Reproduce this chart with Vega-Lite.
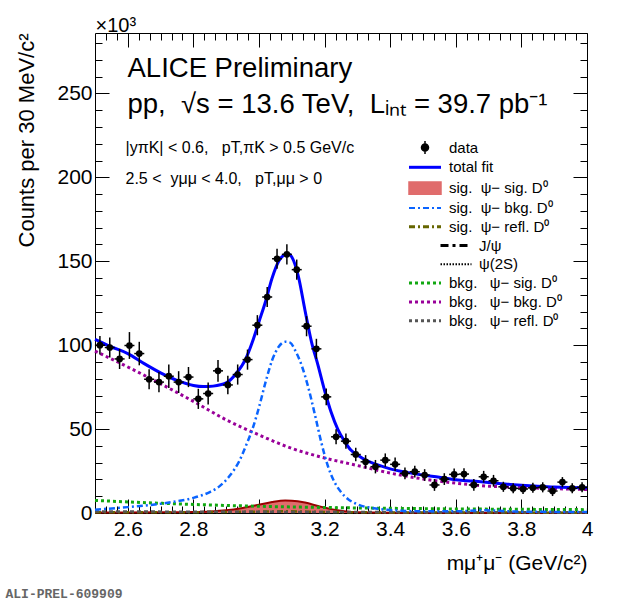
{
  "$schema": "https://vega.github.io/schema/vega-lite/v6.json",
  "description": "ALICE Preliminary: dimuon invariant mass with J/psi - D0 fit components",
  "width": 492,
  "height": 480,
  "autosize": {"type": "none"},
  "padding": {"left": 95, "top": 33, "right": 33, "bottom": 90},
  "background": "white",
  "datasets": {
    "points": [
      {"m": 2.515, "counts": 100.0, "err": 5.5},
      {"m": 2.545, "counts": 98.6, "err": 6},
      {"m": 2.575, "counts": 91.8, "err": 6},
      {"m": 2.605, "counts": 99.8, "err": 8},
      {"m": 2.635, "counts": 95.0, "err": 7},
      {"m": 2.665, "counts": 79.7, "err": 6},
      {"m": 2.695, "counts": 78.0, "err": 6},
      {"m": 2.725, "counts": 81.5, "err": 7},
      {"m": 2.755, "counts": 78.0, "err": 6.5},
      {"m": 2.785, "counts": 81.0, "err": 6},
      {"m": 2.815, "counts": 68.0, "err": 6},
      {"m": 2.845, "counts": 71.2, "err": 6.5},
      {"m": 2.875, "counts": 84.7, "err": 6.5},
      {"m": 2.905, "counts": 76.3, "err": 5.5},
      {"m": 2.935, "counts": 82.5, "err": 6},
      {"m": 2.965, "counts": 91.4, "err": 6},
      {"m": 2.995, "counts": 111.9, "err": 6},
      {"m": 3.025, "counts": 128.7, "err": 6},
      {"m": 3.055, "counts": 151.5, "err": 6},
      {"m": 3.085, "counts": 154.1, "err": 6},
      {"m": 3.115, "counts": 145.0, "err": 6},
      {"m": 3.145, "counts": 111.3, "err": 6},
      {"m": 3.175, "counts": 97.8, "err": 6},
      {"m": 3.205, "counts": 69.2, "err": 5},
      {"m": 3.235, "counts": 45.4, "err": 4.5},
      {"m": 3.265, "counts": 42.8, "err": 4.5},
      {"m": 3.295, "counts": 34.9, "err": 4},
      {"m": 3.325, "counts": 30.5, "err": 4},
      {"m": 3.355, "counts": 27.6, "err": 4},
      {"m": 3.385, "counts": 31.5, "err": 4},
      {"m": 3.415, "counts": 29.0, "err": 4},
      {"m": 3.445, "counts": 23.6, "err": 3.5},
      {"m": 3.475, "counts": 24.6, "err": 3.5},
      {"m": 3.505, "counts": 22.6, "err": 3.5},
      {"m": 3.535, "counts": 16.7, "err": 3.5},
      {"m": 3.565, "counts": 20.2, "err": 3.5},
      {"m": 3.595, "counts": 23.0, "err": 3.5},
      {"m": 3.625, "counts": 23.2, "err": 3.5},
      {"m": 3.655, "counts": 16.7, "err": 3.5},
      {"m": 3.685, "counts": 21.6, "err": 3.5},
      {"m": 3.715, "counts": 19.2, "err": 3.5},
      {"m": 3.745, "counts": 15.6, "err": 3},
      {"m": 3.775, "counts": 14.7, "err": 3},
      {"m": 3.805, "counts": 14.3, "err": 3},
      {"m": 3.835, "counts": 15.0, "err": 3},
      {"m": 3.865, "counts": 15.3, "err": 3},
      {"m": 3.895, "counts": 13.1, "err": 3},
      {"m": 3.925, "counts": 18.4, "err": 3},
      {"m": 3.955, "counts": 14.7, "err": 3},
      {"m": 3.985, "counts": 15.3, "err": 3}
    ],
    "curves": [
      {"comp": "ss", "m": 2.5, "v": 0.3}, {"comp": "ss", "m": 2.7, "v": 0.4}, {"comp": "ss", "m": 2.8, "v": 0.6},
      {"comp": "ss", "m": 2.85, "v": 0.9}, {"comp": "ss", "m": 2.9, "v": 1.6}, {"comp": "ss", "m": 2.95, "v": 3.0},
      {"comp": "ss", "m": 3.0, "v": 4.9}, {"comp": "ss", "m": 3.04, "v": 6.5}, {"comp": "ss", "m": 3.08, "v": 7.4},
      {"comp": "ss", "m": 3.1, "v": 7.3}, {"comp": "ss", "m": 3.14, "v": 6.2}, {"comp": "ss", "m": 3.18, "v": 4.2},
      {"comp": "ss", "m": 3.22, "v": 2.3}, {"comp": "ss", "m": 3.26, "v": 1.1}, {"comp": "ss", "m": 3.3, "v": 0.5},
      {"comp": "ss", "m": 3.4, "v": 0.2}, {"comp": "ss", "m": 4.0, "v": 0.1},

      {"comp": "bb", "m": 2.5, "v": 96.5}, {"comp": "bb", "m": 2.6, "v": 87}, {"comp": "bb", "m": 2.7, "v": 77},
      {"comp": "bb", "m": 2.8, "v": 66.5}, {"comp": "bb", "m": 2.9, "v": 55.5}, {"comp": "bb", "m": 3.0, "v": 46.5},
      {"comp": "bb", "m": 3.1, "v": 38.5}, {"comp": "bb", "m": 3.2, "v": 32.8}, {"comp": "bb", "m": 3.3, "v": 28.3},
      {"comp": "bb", "m": 3.4, "v": 23.8}, {"comp": "bb", "m": 3.5, "v": 20.3}, {"comp": "bb", "m": 3.6, "v": 17.8},
      {"comp": "bb", "m": 3.7, "v": 16.0}, {"comp": "bb", "m": 3.8, "v": 15.2}, {"comp": "bb", "m": 3.9, "v": 14.5},
      {"comp": "bb", "m": 4.0, "v": 14.0},

      {"comp": "bs", "m": 2.5, "v": 7.5}, {"comp": "bs", "m": 2.6, "v": 6.6}, {"comp": "bs", "m": 2.7, "v": 5.8},
      {"comp": "bs", "m": 2.8, "v": 5.1}, {"comp": "bs", "m": 2.9, "v": 4.5}, {"comp": "bs", "m": 3.0, "v": 4.0},
      {"comp": "bs", "m": 3.1, "v": 3.6}, {"comp": "bs", "m": 3.2, "v": 3.3}, {"comp": "bs", "m": 3.3, "v": 3.0},
      {"comp": "bs", "m": 3.4, "v": 2.8}, {"comp": "bs", "m": 3.5, "v": 2.6}, {"comp": "bs", "m": 3.6, "v": 2.4},
      {"comp": "bs", "m": 3.7, "v": 2.3}, {"comp": "bs", "m": 3.8, "v": 2.2}, {"comp": "bs", "m": 3.9, "v": 2.1},
      {"comp": "bs", "m": 4.0, "v": 2.0},

      {"comp": "sr", "m": 2.5, "v": 0.4}, {"comp": "sr", "m": 2.8, "v": 0.5}, {"comp": "sr", "m": 3.0, "v": 0.8},
      {"comp": "sr", "m": 3.08, "v": 1.0}, {"comp": "sr", "m": 3.2, "v": 0.6}, {"comp": "sr", "m": 3.5, "v": 0.3},
      {"comp": "sr", "m": 4.0, "v": 0.2},

      {"comp": "br", "m": 2.5, "v": 0.9}, {"comp": "br", "m": 3.0, "v": 0.7}, {"comp": "br", "m": 3.5, "v": 0.5},
      {"comp": "br", "m": 4.0, "v": 0.4},

      {"comp": "sb", "m": 2.5, "v": 2.0}, {"comp": "sb", "m": 2.6, "v": 3.5}, {"comp": "sb", "m": 2.7, "v": 5.5},
      {"comp": "sb", "m": 2.75, "v": 7}, {"comp": "sb", "m": 2.8, "v": 9}, {"comp": "sb", "m": 2.85, "v": 12.5},
      {"comp": "sb", "m": 2.88, "v": 16}, {"comp": "sb", "m": 2.91, "v": 22}, {"comp": "sb", "m": 2.94, "v": 31},
      {"comp": "sb", "m": 2.96, "v": 40}, {"comp": "sb", "m": 2.98, "v": 50}, {"comp": "sb", "m": 3.0, "v": 63},
      {"comp": "sb", "m": 3.02, "v": 78}, {"comp": "sb", "m": 3.04, "v": 91}, {"comp": "sb", "m": 3.06, "v": 99},
      {"comp": "sb", "m": 3.08, "v": 102}, {"comp": "sb", "m": 3.095, "v": 101.5}, {"comp": "sb", "m": 3.11, "v": 97},
      {"comp": "sb", "m": 3.13, "v": 88}, {"comp": "sb", "m": 3.15, "v": 75}, {"comp": "sb", "m": 3.17, "v": 59},
      {"comp": "sb", "m": 3.19, "v": 42}, {"comp": "sb", "m": 3.21, "v": 28}, {"comp": "sb", "m": 3.23, "v": 18.5},
      {"comp": "sb", "m": 3.25, "v": 12.5}, {"comp": "sb", "m": 3.27, "v": 8.5}, {"comp": "sb", "m": 3.3, "v": 5.2},
      {"comp": "sb", "m": 3.35, "v": 2.8}, {"comp": "sb", "m": 3.4, "v": 1.8}, {"comp": "sb", "m": 3.5, "v": 1.0},
      {"comp": "sb", "m": 3.6, "v": 1.0}, {"comp": "sb", "m": 3.69, "v": 1.6}, {"comp": "sb", "m": 3.8, "v": 0.8},
      {"comp": "sb", "m": 4.0, "v": 0.6},

      {"comp": "fit", "m": 2.5, "v": 103.5}, {"comp": "fit", "m": 2.55, "v": 99}, {"comp": "fit", "m": 2.6, "v": 95},
      {"comp": "fit", "m": 2.65, "v": 89}, {"comp": "fit", "m": 2.7, "v": 83.5}, {"comp": "fit", "m": 2.75, "v": 79},
      {"comp": "fit", "m": 2.8, "v": 76}, {"comp": "fit", "m": 2.83, "v": 75.3}, {"comp": "fit", "m": 2.86, "v": 75.6},
      {"comp": "fit", "m": 2.9, "v": 77.5}, {"comp": "fit", "m": 2.93, "v": 83}, {"comp": "fit", "m": 2.96, "v": 92},
      {"comp": "fit", "m": 2.98, "v": 102}, {"comp": "fit", "m": 3.0, "v": 114}, {"comp": "fit", "m": 3.02, "v": 126},
      {"comp": "fit", "m": 3.04, "v": 140}, {"comp": "fit", "m": 3.06, "v": 150}, {"comp": "fit", "m": 3.08, "v": 154},
      {"comp": "fit", "m": 3.09, "v": 154.3}, {"comp": "fit", "m": 3.1, "v": 152.5}, {"comp": "fit", "m": 3.12, "v": 141},
      {"comp": "fit", "m": 3.14, "v": 121}, {"comp": "fit", "m": 3.16, "v": 102}, {"comp": "fit", "m": 3.18, "v": 88},
      {"comp": "fit", "m": 3.2, "v": 73}, {"comp": "fit", "m": 3.22, "v": 60}, {"comp": "fit", "m": 3.24, "v": 50},
      {"comp": "fit", "m": 3.26, "v": 43}, {"comp": "fit", "m": 3.28, "v": 37.5}, {"comp": "fit", "m": 3.3, "v": 34.5},
      {"comp": "fit", "m": 3.33, "v": 31}, {"comp": "fit", "m": 3.36, "v": 28.8}, {"comp": "fit", "m": 3.4, "v": 26.3},
      {"comp": "fit", "m": 3.45, "v": 24.2}, {"comp": "fit", "m": 3.5, "v": 22.6}, {"comp": "fit", "m": 3.55, "v": 21.3},
      {"comp": "fit", "m": 3.6, "v": 19.8}, {"comp": "fit", "m": 3.65, "v": 19.0}, {"comp": "fit", "m": 3.7, "v": 18.2},
      {"comp": "fit", "m": 3.75, "v": 17.3}, {"comp": "fit", "m": 3.8, "v": 16.6}, {"comp": "fit", "m": 3.85, "v": 16.0},
      {"comp": "fit", "m": 3.9, "v": 15.5}, {"comp": "fit", "m": 3.95, "v": 15.2}, {"comp": "fit", "m": 4.0, "v": 15.0}
    ]
  },
  "resolve": {"axis": {"x": "independent", "y": "independent"}},
  "layer": [
    {
      "data": {"name": "curves"},
      "transform": [{"filter": "datum.comp === 'ss'"}],
      "mark": {"type": "area", "color": "#e06c6c", "opacity": 1, "interpolate": "monotone",
               "line": {"color": "#990000", "strokeWidth": 2}},
      "encoding": {
        "x": {"field": "m", "type": "quantitative", "scale": {"domain": [2.5, 4], "nice": false, "zero": false},
          "axis": {"orient": "bottom", "values": [2.6, 2.8, 3, 3.2, 3.4, 3.6, 3.8, 4], "format": "~g",
                   "ticks": false, "labelFontSize": 21, "labelPadding": 5,
                   "title": "mμ⁺μ⁻ (GeV/c²)", "titleFontSize": 21, "titleX": 492, "titleY": 56,
                   "titleAlign": "right", "titleBaseline": "alphabetic", "titleAngle": 0}},
        "y": {"field": "v", "type": "quantitative", "scale": {"domain": [0, 286], "nice": false},
          "axis": {"orient": "left", "values": [0, 50, 100, 150, 200, 250], "ticks": false,
                   "labelFontSize": 21, "labelPadding": 3,
                   "title": "Counts per 30 MeV/c²", "titleFontSize": 22, "titleAngle": -90,
                   "titleX": -62, "titleY": 0, "titleAlign": "right", "titleBaseline": "alphabetic"}}
      }
    },
    {
      "data": {"name": "curves"},
      "transform": [{"filter": "datum.comp === 'bb'"}],
      "mark": {"type": "line", "color": "#990099", "strokeWidth": 3, "strokeDash": [3, 3], "interpolate": "monotone"},
      "encoding": {
        "x": {"field": "m", "type": "quantitative", "scale": {"domain": [2.5, 4], "nice": false, "zero": false},
          "axis": {"orient": "bottom", "values": [2.6, 2.8, 3, 3.2, 3.4, 3.6, 3.8, 4], "offset": -14, "tickSize": 14,
                   "labels": false, "title": "ALI-PREL-609909", "titleFont": "Liberation Mono", "titleFontSize": 13,
                   "titleFontWeight": "bold", "titleColor": "#666666", "titleX": -90, "titleY": 98,
                   "titleAlign": "left", "titleBaseline": "alphabetic", "titleAngle": 0}},
        "y": {"field": "v", "type": "quantitative", "scale": {"domain": [0, 286], "nice": false},
          "axis": {"orient": "left", "values": [0, 50, 100, 150, 200, 250], "offset": -14, "tickSize": 14,
                   "labels": false, "title": null}}
      }
    },
    {
      "data": {"name": "curves"},
      "transform": [{"filter": "datum.comp === 'bs'"}],
      "mark": {"type": "line", "color": "#11a811", "strokeWidth": 3, "strokeDash": [3, 3], "interpolate": "monotone"},
      "encoding": {
        "x": {"field": "m", "type": "quantitative", "scale": {"domain": [2.5, 4], "nice": false, "zero": false},
          "axis": {"orient": "top", "values": [2.6, 2.8, 3, 3.2, 3.4, 3.6, 3.8, 4], "offset": -14, "tickSize": 14,
                   "labels": false, "title": "×10³", "titleFontSize": 20, "titleX": 0, "titleY": -16,
                   "titleAlign": "left", "titleBaseline": "alphabetic", "titleAngle": 0}},
        "y": {"field": "v", "type": "quantitative", "scale": {"domain": [0, 286], "nice": false},
          "axis": {"orient": "right", "values": [0, 50, 100, 150, 200, 250], "offset": -14, "tickSize": 14,
                   "labels": false, "title": null}}
      }
    },
    {
      "data": {"name": "curves"},
      "transform": [{"filter": "datum.comp === 'sr'"}],
      "mark": {"type": "line", "color": "#666600", "strokeWidth": 2.5, "strokeDash": [6, 3, 2, 3], "interpolate": "monotone"},
      "encoding": {
        "x": {"field": "m", "type": "quantitative", "scale": {"domain": [2.5, 4], "nice": false, "zero": false},
          "axis": {"orient": "top",
                   "values": [2.5333, 2.5667, 2.6333, 2.6667, 2.7, 2.7333, 2.7667, 2.8333, 2.8667, 2.9, 2.9333, 2.9667,
                              3.0333, 3.0667, 3.1, 3.1333, 3.1667, 3.2333, 3.2667, 3.3, 3.3333, 3.3667, 3.4333, 3.4667,
                              3.5, 3.5333, 3.5667, 3.6333, 3.6667, 3.7, 3.7333, 3.7667, 3.8333, 3.8667, 3.9, 3.9333, 3.9667],
                   "offset": -7, "tickSize": 7, "labels": false,
                   "title": ["ALICE Preliminary", "pp,\u00a0\u00a0√s = 13.6 TeV,\u00a0\u00a0Lᵢₙₜ = 39.7 pb⁻¹"],
                   "titleFontSize": 27.5, "titleLineHeight": 36, "titleX": 32, "titleY": 36,
                   "titleAlign": "left", "titleBaseline": "alphabetic", "titleAngle": 0}},
        "y": {"field": "v", "type": "quantitative", "scale": {"domain": [0, 286], "nice": false},
          "axis": {"orient": "right",
                   "values": [10, 20, 30, 40, 60, 70, 80, 90, 110, 120, 130, 140, 160, 170, 180, 190, 210, 220, 230, 240, 260, 270, 280],
                   "offset": -7, "tickSize": 7, "labels": false, "title": null}}
      }
    },
    {
      "data": {"name": "curves"},
      "transform": [{"filter": "datum.comp === 'br'"}],
      "mark": {"type": "line", "color": "#555555", "strokeWidth": 2.5, "strokeDash": [4, 3], "interpolate": "monotone"},
      "encoding": {
        "x": {"field": "m", "type": "quantitative", "scale": {"domain": [2.5, 4], "nice": false, "zero": false},
          "axis": {"orient": "bottom",
                   "values": [2.5333, 2.5667, 2.6333, 2.6667, 2.7, 2.7333, 2.7667, 2.8333, 2.8667, 2.9, 2.9333, 2.9667,
                              3.0333, 3.0667, 3.1, 3.1333, 3.1667, 3.2333, 3.2667, 3.3, 3.3333, 3.3667, 3.4333, 3.4667,
                              3.5, 3.5333, 3.5667, 3.6333, 3.6667, 3.7, 3.7333, 3.7667, 3.8333, 3.8667, 3.9, 3.9333, 3.9667],
                   "offset": -7, "tickSize": 7, "labels": false, "title": null}},
        "y": {"field": "v", "type": "quantitative", "scale": {"domain": [0, 286], "nice": false},
          "axis": {"orient": "left",
                   "values": [10, 20, 30, 40, 60, 70, 80, 90, 110, 120, 130, 140, 160, 170, 180, 190, 210, 220, 230, 240, 260, 270, 280],
                   "offset": -7, "tickSize": 7, "labels": false,
                   "title": ["|yπK| < 0.6,\u00a0\u00a0 pT,πK > 0.5 GeV/c", "2.5 <\u00a0 yμμ < 4.0,\u00a0\u00a0 pT,μμ > 0"],
                   "titleFontSize": 16, "titleLineHeight": 31, "titleX": 23, "titleY": 119,
                   "titleAlign": "left", "titleBaseline": "alphabetic", "titleAngle": 0}}
      }
    },
    {
      "data": {"name": "curves"},
      "transform": [{"filter": "datum.comp === 'sb'"}],
      "mark": {"type": "line", "color": "#0a64ff", "strokeWidth": 2.5, "strokeDash": [6, 3, 2, 3], "interpolate": "monotone"},
      "encoding": {
        "x": {"field": "m", "type": "quantitative", "scale": {"domain": [2.5, 4], "nice": false, "zero": false}, "axis": null},
        "y": {"field": "v", "type": "quantitative", "scale": {"domain": [0, 286], "nice": false}, "axis": null}
      }
    },
    {
      "data": {"name": "curves"},
      "transform": [{"filter": "datum.comp === 'fit'"}],
      "mark": {"type": "line", "strokeWidth": 3, "interpolate": "monotone"},
      "encoding": {
        "x": {"field": "m", "type": "quantitative", "scale": {"domain": [2.5, 4], "nice": false, "zero": false}, "axis": null},
        "y": {"field": "v", "type": "quantitative", "scale": {"domain": [0, 286], "nice": false}, "axis": null},
        "color": {
          "field": "comp", "type": "nominal",
          "scale": {
            "domain": ["data", "fit", "ss", "sb", "sr", "jpsi", "psi2s", "bs", "bb", "br"],
            "range": ["black", "#0000ff", "#e06c6c", "#0a64ff", "#666600", "black", "black", "#11a811", "#990099", "#555555"]
          },
          "legend": {
            "orient": "none", "legendX": 314, "legendY": 107, "title": null, "padding": 0,
            "labelFont": "Liberation Sans", "labelFontSize": 15, "labelColor": "black",
            "rowPadding": 2.8, "symbolSize": 100, "symbolType": "stroke",
            "labelExpr": "datum.value==='data' ? 'data' : datum.value==='fit' ? 'total fit' : datum.value==='ss' ? 'sig.\u00a0\u00a0ψ− sig. D⁰' : datum.value==='sb' ? 'sig.\u00a0\u00a0ψ− bkg. D⁰' : datum.value==='sr' ? 'sig.\u00a0\u00a0ψ− refl. D⁰' : datum.value==='jpsi' ? 'J/ψ' : datum.value==='psi2s' ? 'ψ(2S)' : datum.value==='bs' ? 'bkg.\u00a0\u00a0\u00a0ψ− sig. D⁰' : datum.value==='bb' ? 'bkg.\u00a0\u00a0\u00a0ψ− bkg. D⁰' : 'bkg.\u00a0\u00a0\u00a0ψ− refl. D⁰'",
            "encode": {
              "symbols": {
                "update": {
                  "shape": {"signal": "datum.value==='data' ? 'M-0.22,0A0.22,0.22 0 1,0 0.22,0A0.22,0.22 0 1,0 -0.22,0ZM0,-0.4V0.4' : datum.value==='ss' ? 'M-1,-0.38H1V0.38H-1Z' : 'stroke'"},
                  "size": {"signal": "datum.value==='jpsi'||datum.value==='psi2s' ? 961 : 1024"},
                  "stroke": {"signal": "datum.value==='data'||datum.value==='jpsi'||datum.value==='psi2s' ? 'black' : datum.value==='fit' ? '#0000ff' : datum.value==='ss' ? '#990000' : datum.value==='sb' ? '#0a64ff' : datum.value==='sr' ? '#666600' : datum.value==='bs' ? '#11a811' : datum.value==='bb' ? '#990099' : '#555555'"},
                  "fill": {"signal": "datum.value==='data' ? 'black' : datum.value==='ss' ? '#e06c6c' : 'transparent'"},
                  "strokeWidth": {"signal": "datum.value==='data'||datum.value==='ss' ? 1.5 : datum.value==='sb'||datum.value==='psi2s' ? 2 : 3"},
                  "strokeDash": {"signal": "datum.value==='sb'||datum.value==='sr' ? [6,3,2,3] : datum.value==='jpsi' ? [8,4,3,4] : datum.value==='psi2s' ? [1.5,1.5] : datum.value==='bs'||datum.value==='bb'||datum.value==='br' ? [3,3] : []"},
                  "x": {"signal": "datum.value==='jpsi'||datum.value==='psi2s' ? 47 : 16"},
                  "opacity": {"value": 1}
                }
              },
              "labels": {
                "update": {
                  "x": {"signal": "datum.value==='jpsi'||datum.value==='psi2s' ? 70 : 40"}
                }
              }
            }
          }
        }
      }
    },
    {
      "data": {"name": "points"},
      "mark": {"type": "errorbar", "color": "black", "thickness": 1.5},
      "encoding": {
        "x": {"field": "m", "type": "quantitative", "scale": {"domain": [2.5, 4], "nice": false, "zero": false}, "axis": null},
        "y": {"field": "counts", "type": "quantitative", "scale": {"domain": [0, 286], "nice": false}, "axis": null},
        "yError": {"field": "err"}
      }
    },
    {
      "data": {"name": "points"},
      "mark": {"type": "tick", "orient": "horizontal", "size": 10, "thickness": 1.5, "color": "black", "opacity": 1},
      "encoding": {
        "x": {"field": "m", "type": "quantitative", "scale": {"domain": [2.5, 4], "nice": false, "zero": false}, "axis": null},
        "y": {"field": "counts", "type": "quantitative", "scale": {"domain": [0, 286], "nice": false}, "axis": null}
      }
    },
    {
      "data": {"name": "points"},
      "mark": {"type": "circle", "size": 45, "color": "black", "opacity": 1},
      "encoding": {
        "x": {"field": "m", "type": "quantitative", "scale": {"domain": [2.5, 4], "nice": false, "zero": false}, "axis": null},
        "y": {"field": "counts", "type": "quantitative", "scale": {"domain": [0, 286], "nice": false}, "axis": null}
      }
    }
  ],
  "config": {
    "font": "Liberation Sans",
    "view": {"stroke": "black", "strokeWidth": 1},
    "axis": {
      "grid": false, "domain": false,
      "labelFont": "Liberation Sans", "titleFont": "Liberation Sans",
      "labelColor": "black", "titleColor": "black", "titleFontWeight": "normal",
      "tickColor": "black", "tickWidth": 1, "titleLimit": 2000,
      "labelFlush": false, "labelOverlap": false, "labelBound": false
    }
  }
}
